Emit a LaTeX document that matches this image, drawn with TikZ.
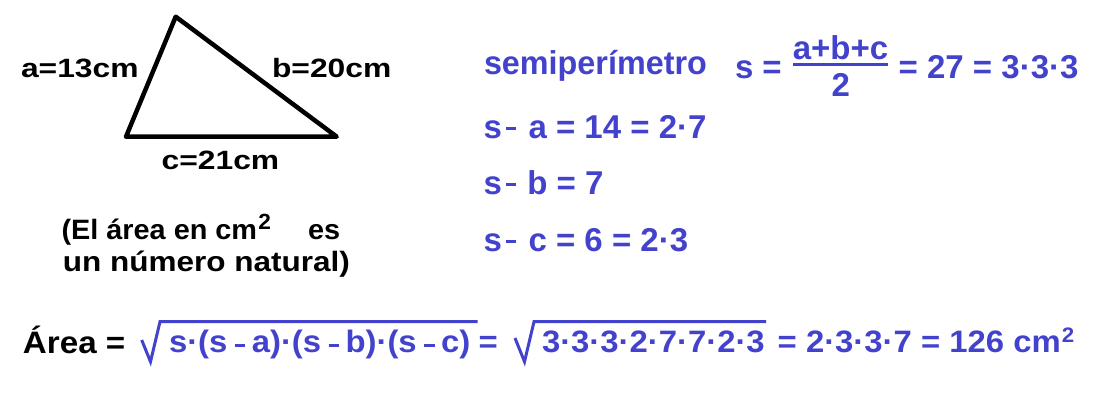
\documentclass[tikz,border=0pt]{standalone}
\usepackage{fontspec}
\setmainfont{Liberation Sans}
\usepackage{graphicx}
\definecolor{fblue}{RGB}{66,66,204}
\tikzset{
 lbl/.style={anchor=base west, inner sep=0pt, outer sep=0pt, text=black},
 blu/.style={anchor=base west, inner sep=0pt, outer sep=0pt, text=fblue},
 root/.style={draw=fblue, line width=3pt, line join=miter},
 fracbar/.style={draw=fblue, line width=2.5pt},
 tri/.style={draw=black, line width=4.5pt, line join=round},
}
\newcommand{\bt}[3]{\scalebox{#2}[1]{\fontsize{#1}{#1}\selectfont\bfseries #3}}
\newcommand{\mns}[3]{\hspace*{#1}\rule[#3]{10pt}{3.3pt}\hspace*{#2}}
\begin{document}
\begin{tikzpicture}[x=1pt,y=-1pt]
\useasboundingbox (0,0) rectangle (1098,411);
% triangle
\coordinate (A) at (175.7,16.7);
\coordinate (B) at (126,136.7);
\coordinate (C) at (336.7,136.7);
\draw[tri] (A) -- (B) -- (C) -- cycle;
\node[lbl] (la) at (21,77.5) {\bt{26.5}{1.2}{a=13cm}};
\node[lbl] (lb) at (272,77.5) {\bt{26.5}{1.2}{b=20cm}};
\node[lbl] (lc) at (161.7,170) {\bt{26.5}{1.2}{c=21cm}};
\node[lbl] (n1) at (61.6,240) {\bt{28}{1.03}{(El área en cm\hspace*{1.2pt}\raisebox{10pt}{\fontsize{22}{22}\selectfont 2}\hspace*{36pt}es}};
\node[lbl] (n2) at (62.8,271.7) {\bt{28}{1.125}{un número natural)}};
% semiperimeter
\node[blu] (sp) at (484,74.3) {\bt{33}{0.98}{semiperímetro}};
\node[blu] (s) at (735,78.3) {\bt{33}{1}{s =}};
\node[blu, anchor=base] (num) at (840.5,60) {\bt{33}{1}{a+b+c}};
\node[blu, anchor=base] (den) at (840.8,96.7) {\bt{33}{1}{2}};
\coordinate (fb1) at (793.3,64.3);
\coordinate (fb2) at (888.3,64.3);
\draw[fracbar] (fb1) -- (fb2);
\node[blu] (s27) at (898.7,78.3) {\bt{33}{1}{= 27 = 3·3·3}};
% rows
\node[blu] (r1) at (483.7,139) {\bt{33}{1}{s\mns{4.3pt}{12.2pt}{8.5pt}a = 14 = 2·7}};
\node[blu] (r2) at (483.7,195) {\bt{33}{1}{s\mns{4.3pt}{11pt}{8.5pt}b = 7}};
\node[blu] (r3) at (483.7,251.7) {\bt{33}{1}{s\mns{4.3pt}{12.2pt}{8.5pt}c = 6 = 2·3}};
% area
\node[lbl] (area) at (23,353.3) {\bt{31}{1.07}{Área\hspace*{8.5pt}=}};
\coordinate (q1a) at (141.7,340);
\coordinate (q1b) at (150.5,361.7);
\coordinate (q1c) at (160,321.7);
\coordinate (q1d) at (477.7,321.7);
\draw[root] (q1a) -- (q1b) -- (q1c) -- (q1d);
\node[blu] (rad1) at (169,352.5) {\bt{31}{1.06}{s·(s\mns{7pt}{6pt}{5.5pt}a)·(s\mns{7pt}{6pt}{5.5pt}b)·(s\mns{7pt}{6pt}{5.5pt}c)}};
\node[blu] (eq1) at (478.7,352.5) {\bt{31}{1.06}{=}};
\coordinate (q2a) at (515,338);
\coordinate (q2b) at (524.5,361.7);
\coordinate (q2c) at (534,321.7);
\coordinate (q2d) at (766,321.7);
\draw[root] (q2a) -- (q2b) -- (q2c) -- (q2d);
\node[blu] (rad2) at (542,352.5) {\bt{31}{1.06}{3·3·3·2·7·7·2·3}};
\node[blu] (res) at (777.7,352.5) {\bt{31}{1.06}{= 2·3·3·7 = 126 cm\hspace*{1pt}\raisebox{10pt}{\fontsize{21}{21}\selectfont 2}}};
\end{tikzpicture}
\end{document}
